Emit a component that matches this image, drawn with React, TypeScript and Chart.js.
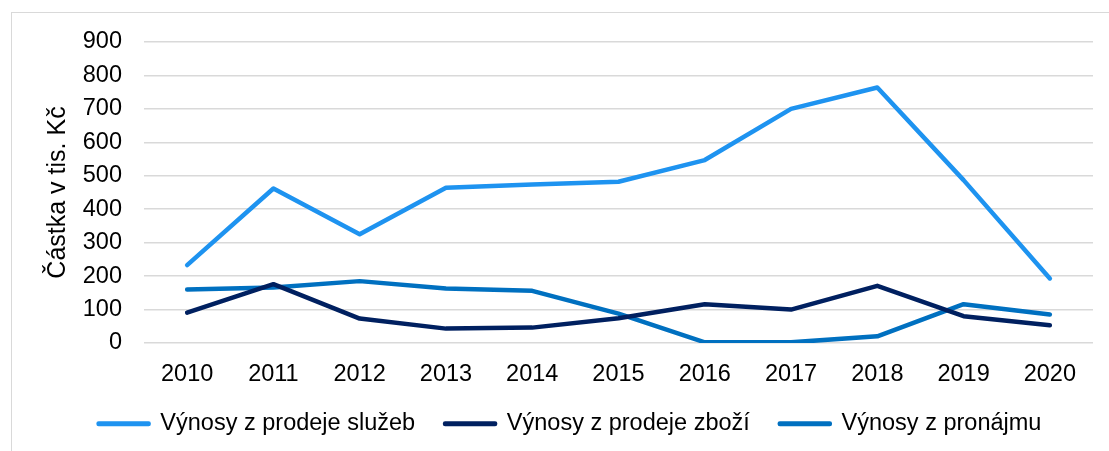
import React, { useEffect, useRef } from "react";
import { Chart, registerables } from "chart.js";

Chart.register(...registerables);

const years = ["2010", "2011", "2012", "2013", "2014", "2015", "2016", "2017", "2018", "2019", "2020"];
const sluzby = [233, 462, 325, 464, 474, 482, 547, 700, 764, 487, 193];
const zbozi = [91, 176, 73, 43, 46, 74, 116, 100, 171, 80, 53];
const pronajem = [160, 166, 185, 163, 156, 88, 2, 2, 20, 116, 85];
const seriesNames = ["Výnosy z prodeje služeb", "Výnosy z prodeje zboží", "Výnosy z pronájmu"];
const seriesColors = ["#1E93F0", "#002060", "#0070C0"];
const yTitle = "Částka v tis. Kč";

const FONT = "'Liberation Sans', Arial, sans-serif";
const FS = 23.5;

export default function App() {
  const ref = useRef<HTMLCanvasElement | null>(null);
  useEffect(() => {
    if (!ref.current) return;
    const values = [sluzby, zbozi, pronajem];
    const chart = new Chart(ref.current, {
      type: "line",
      data: {
        labels: years,
        datasets: values.map((v, i) => ({
          label: seriesNames[i],
          data: v,
          borderColor: seriesColors[i],
          backgroundColor: seriesColors[i],
          borderWidth: 4.5,
          pointRadius: 0,
          pointHoverRadius: 0,
          tension: 0,
          borderCapStyle: "round",
          borderJoinStyle: "round",
          fill: false,
        })),
      },
      options: {
        animation: false,
        responsive: false,
        maintainAspectRatio: false,
        layout: { padding: { left: 47, right: 16, top: 42, bottom: 0 } },
        plugins: {
          tooltip: { enabled: false },
          legend: {
            position: "bottom",
            maxHeight: 60,
            labels: {
              boxWidth: 50,
              boxHeight: 0.5,
              padding: 30,
              color: "#000",
              font: { family: FONT, size: FS },
            },
          },
        },
        scales: {
          x: {
            offset: true,
            grid: { display: false, drawTicks: false },
            border: { display: false },
            ticks: { color: "#000", font: { family: FONT, size: FS }, padding: 17, maxRotation: 0 },
            afterFit: (s: any) => {
              s.height = 39;
            },
          },
          y: {
            min: 0,
            max: 900,
            grid: { color: "#d9d9d9", lineWidth: 1.5, drawTicks: false },
            border: { display: false },
            ticks: { stepSize: 100, color: "#000", font: { family: FONT, size: FS }, padding: 22 },
            title: {
              display: true,
              text: yTitle,
              color: "#000",
              font: { family: FONT, size: 25, lineHeight: 0.9 },
              padding: { top: 0, bottom: 0 },
            },
            afterFit: (s: any) => {
              s.width = 97;
            },
          },
        },
      },
    });
    return () => chart.destroy();
  }, []);
  return (
    <div style={{ position: "fixed", left: 0, top: 0, width: 1109, height: 451, background: "#fff", overflow: "hidden" }}>
      <div
        style={{
          position: "absolute",
          left: 11,
          top: 12,
          width: 1120,
          height: 460,
          border: "1.5px solid #d9d9d9",
          boxSizing: "border-box",
        }}
      />
      <canvas ref={ref} width={1109} height={442} style={{ position: "absolute", left: 0, top: 0, width: 1109, height: 442 }} />
    </div>
  );
}
